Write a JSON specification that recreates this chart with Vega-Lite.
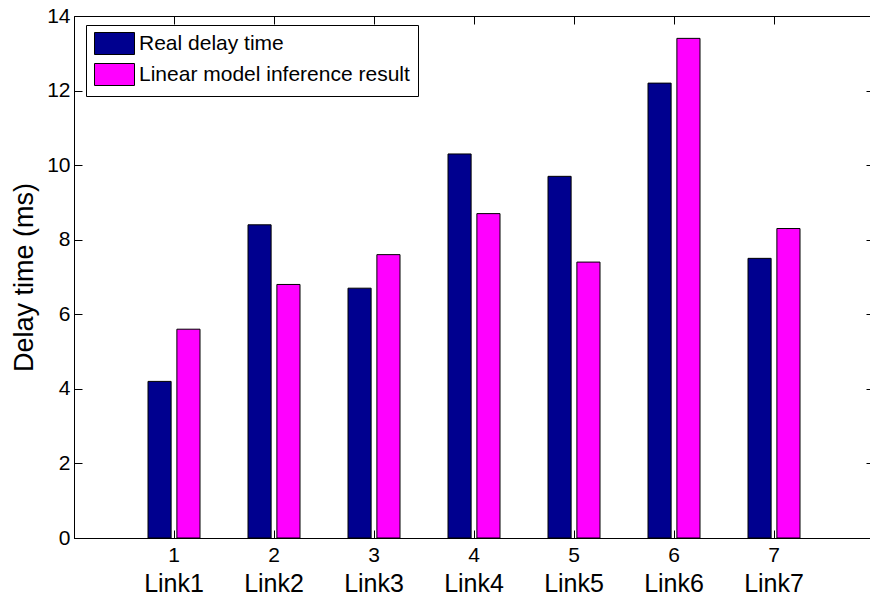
{
  "$schema": "https://vega.github.io/schema/vega-lite/v6.json",
  "autosize": {"type": "none"},
  "padding": {"left": 74, "top": 16, "right": 0, "bottom": 58},
  "width": 800,
  "height": 522,
  "background": "white",
  "config": {
    "font": "Liberation Sans",
    "view": {"stroke": "black", "strokeWidth": 1},
    "axis": {"labelColor": "black", "titleColor": "black", "tickColor": "black", "domainColor": "black", "grid": false, "labelFont": "Liberation Sans", "titleFont": "Liberation Sans"}
  },
  "data": {
    "values": [
      {"link": 1, "series": "Real delay time", "delay": 4.2},
      {"link": 1, "series": "Linear model inference result", "delay": 5.6},
      {"link": 2, "series": "Real delay time", "delay": 8.4},
      {"link": 2, "series": "Linear model inference result", "delay": 6.8},
      {"link": 3, "series": "Real delay time", "delay": 6.7},
      {"link": 3, "series": "Linear model inference result", "delay": 7.6},
      {"link": 4, "series": "Real delay time", "delay": 10.3},
      {"link": 4, "series": "Linear model inference result", "delay": 8.7},
      {"link": 5, "series": "Real delay time", "delay": 9.7},
      {"link": 5, "series": "Linear model inference result", "delay": 7.4},
      {"link": 6, "series": "Real delay time", "delay": 12.2},
      {"link": 6, "series": "Linear model inference result", "delay": 13.4},
      {"link": 7, "series": "Real delay time", "delay": 7.5},
      {"link": 7, "series": "Linear model inference result", "delay": 8.3}
    ]
  },
  "resolve": {"axis": {"x": "independent", "y": "independent"}},
  "layer": [
    {
      "mark": {"type": "bar", "stroke": "black", "strokeWidth": 1},
      "encoding": {
        "x": {
          "field": "link", "type": "ordinal",
          "scale": {"type": "band", "domain": [1, 2, 3, 4, 5, 6, 7], "paddingInner": 0.48, "paddingOuter": 0.74},
          "axis": {"orient": "bottom", "title": null, "labelAngle": 0, "labelFontSize": 21, "tickSize": -8, "labelPadding": 14, "bandPosition": 0.5, "domain": true}
        },
        "xOffset": {
          "field": "series", "type": "nominal",
          "scale": {"domain": ["Real delay time", "Linear model inference result"], "paddingInner": 0.2, "paddingOuter": 0}
        },
        "y": {
          "field": "delay", "type": "quantitative",
          "scale": {"domain": [0, 14], "nice": false, "zero": true},
          "axis": {"orient": "left", "values": [0, 2, 4, 6, 8, 10, 12, 14], "labelFontSize": 21, "tickSize": -8, "labelPadding": 12, "domain": true, "title": "Delay time (ms)", "titleFontSize": 27, "titleFontWeight": "normal", "titlePadding": 8}
        },
        "color": {
          "field": "series", "type": "nominal",
          "scale": {"domain": ["Real delay time", "Linear model inference result"], "range": ["#00008F", "#FF00FF"]},
          "legend": {
            "orient": "none", "legendX": 12, "legendY": 9, "title": null,
            "padding": 8, "strokeColor": "black", "fillColor": "white",
            "labelFontSize": 21, "labelColor": "black", "labelOffset": 14, "labelLimit": 400,
            "symbolType": "M-2,-1.1H2V1.1H-2Z", "symbolSize": 400, "symbolOffset": 10,
            "symbolStrokeColor": "black", "symbolStrokeWidth": 1, "symbolOpacity": 1, "rowPadding": 4
          }
        }
      }
    },
    {
      "mark": {"type": "point", "opacity": 0},
      "encoding": {
        "x": {
          "field": "link", "type": "ordinal",
          "scale": {"type": "band", "domain": [1, 2, 3, 4, 5, 6, 7], "paddingInner": 0.48, "paddingOuter": 0.74},
          "axis": {"orient": "bottom", "title": null, "labelAngle": 0, "labelFontSize": 25, "ticks": false, "domain": false, "labelPadding": 33, "bandPosition": 0.5, "labelExpr": "'Link' + datum.label"}
        },
        "y": {
          "field": "delay", "type": "quantitative",
          "scale": {"domain": [0, 14], "nice": false},
          "axis": {"orient": "right", "values": [0, 2, 4, 6, 8, 10, 12, 14], "labels": false, "tickSize": -8, "domain": false, "title": null}
        }
      }
    },
    {
      "mark": {"type": "point", "opacity": 0},
      "encoding": {
        "x": {
          "field": "link", "type": "ordinal",
          "scale": {"type": "band", "domain": [1, 2, 3, 4, 5, 6, 7], "paddingInner": 0.48, "paddingOuter": 0.74},
          "axis": {"orient": "top", "title": null, "labels": false, "tickSize": -8, "domain": false, "bandPosition": 0.5}
        },
        "y": {
          "field": "delay", "type": "quantitative",
          "scale": {"domain": [0, 14], "nice": false},
          "axis": null
        }
      }
    }
  ]
}
